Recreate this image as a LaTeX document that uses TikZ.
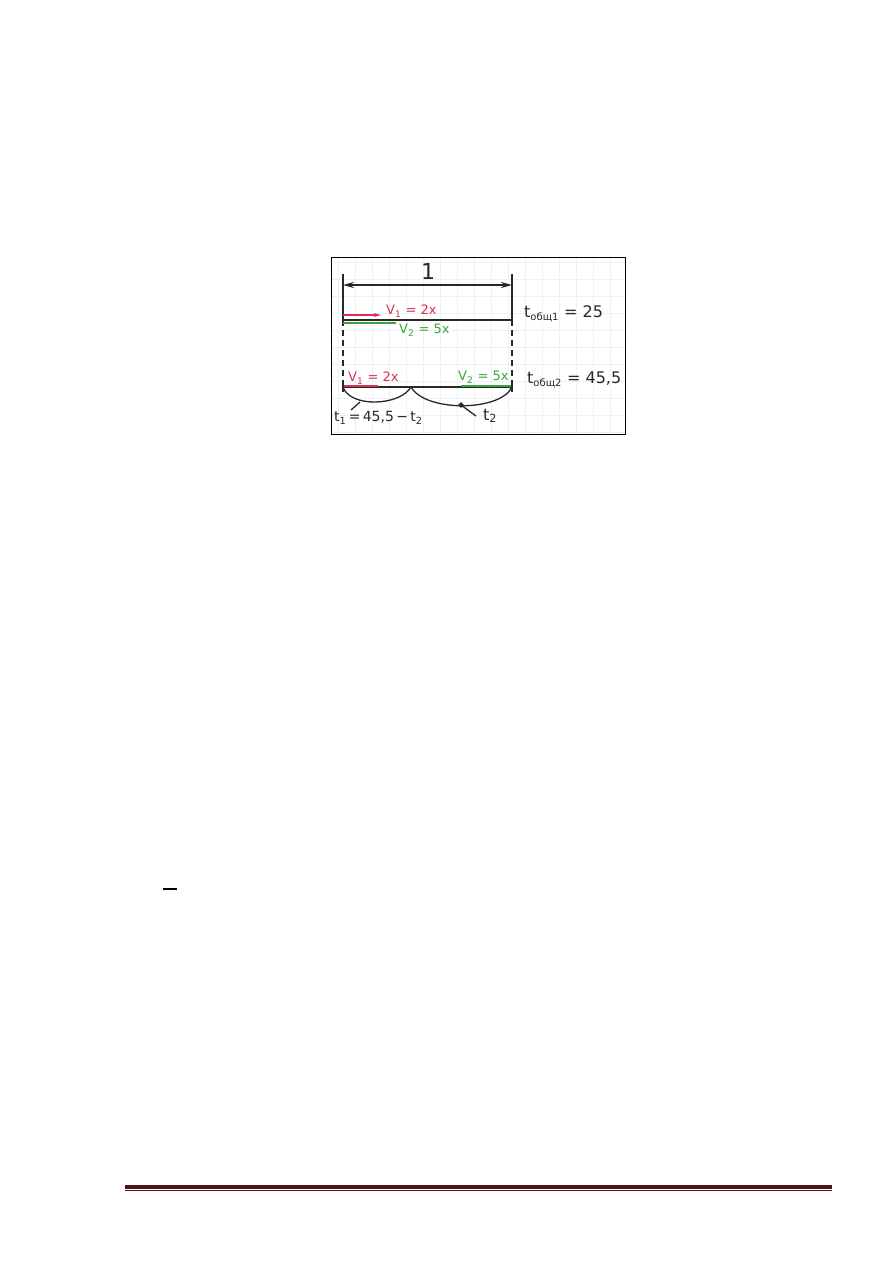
\documentclass[tikz,border=0pt]{standalone}
\usepackage{fontspec}
\setmainfont{DejaVu Sans}
\usetikzlibrary{arrows.meta,calc}
\definecolor{pred}{RGB}{225,45,80}
\definecolor{pgreen}{RGB}{55,165,60}
\definecolor{footred}{RGB}{75,18,25}
\definecolor{gridc}{RGB}{236,243,247}
\definecolor{ink}{RGB}{40,40,40}
\tikzset{
  ink/.style={draw=ink, line width=1.6pt},
  tick/.style={draw=ink, line width=2.4pt},
  redlbl/.style={text=pred, font=\fontsize{13}{13}\selectfont, inner sep=0pt, anchor=west},
  greenlbl/.style={text=pgreen, font=\fontsize{13}{13}\selectfont, inner sep=0pt, anchor=west},
  tlbl/.style={text=ink, font=\fontsize{16}{16}\selectfont, inner sep=0pt, anchor=west},
  tlbls/.style={text=ink, font=\fontsize{14}{14}\selectfont, inner sep=0pt, anchor=west},
}
\begin{document}
\begin{tikzpicture}[x=1pt,y=-1pt]
\useasboundingbox (0,0) rectangle (893,1263);
% picture frame with graph-paper grid
\begin{scope}
  \clip (331,257) rectangle (625,434);
  \foreach \gx in {338,355,...,625} \draw[gridc, line width=0.6pt] (\gx,257) -- (\gx,434);
  \foreach \gy in {262,279,...,434} \draw[gridc, line width=0.6pt] (331,\gy) -- (625,\gy);
\end{scope}
\node[draw=black, line width=1.4pt, minimum width=294pt, minimum height=177pt, inner sep=0pt, anchor=north west] (frame) at (331,257) {};
% key points
\coordinate (T1) at (343,274);
\coordinate (T2) at (512,274);
\coordinate (D1) at (343,285);
\coordinate (D2) at (512,285);
\coordinate (A1) at (343,320);
\coordinate (B1) at (512,320);
\coordinate (A2) at (343,387);
\coordinate (M2) at (411,387);
\coordinate (B2) at (512,387);
% dimension
\draw[ink] (T1) -- (A1);
\draw[ink] (T2) -- (B1);
\draw[ink, {Stealth[length=11pt,width=6pt]}-{Stealth[length=11pt,width=6pt]}] (D1) -- (D2);
\node[text=ink, font=\fontsize{22}{22}\selectfont, inner sep=0pt] (one) at (428,271) {1};
% dashed continuation
\draw[ink, line width=1.3pt, dash pattern=on 6pt off 4pt] (A1) -- (A2);
\draw[ink, line width=1.3pt, dash pattern=on 6pt off 4pt] (B1) -- (B2);
% first line
\draw[ink] (A1) -- (B1);
\draw[tick] ($(A1)+(0,-5)$) -- ($(A1)+(0,5)$);
\draw[tick] ($(B1)+(0,-5)$) -- ($(B1)+(0,5)$);
\coordinate (R1) at (381,315);
\draw[pred, line width=1.5pt, -{Stealth[length=7pt,width=4pt]}] (343,315) -- (R1);
\draw[pgreen, line width=2.2pt] (343,323) -- (396,323);
\node[redlbl] (v1a) at (386,311) {V\textsubscript{1} = 2x};
\node[greenlbl] (v2a) at (399,330) {V\textsubscript{2} = 5x};
\node[tlbl] (tob1) at (524,314) {t\textsubscript{\fontsize{10}{10}\selectfont общ1} = 25};
% second line
\draw[ink] (A2) -- (B2);
\draw[pred, line width=2.6pt] (343,386) -- (378,386);
\draw[pgreen, line width=2.6pt] (461,386) -- (512,386);
\draw[tick] ($(A2)+(0,-5)$) -- ($(A2)+(0,5)$);
\draw[tick] ($(B2)+(0,-5)$) -- ($(B2)+(0,5)$);
\node[redlbl] (v1b) at (348,378) {V\textsubscript{1} = 2x};
\node[greenlbl] (v2b) at (458,377) {V\textsubscript{2} = 5x};
\node[tlbl] (tob2) at (527,380) {t\textsubscript{\fontsize{10}{10}\selectfont общ2} = 45,5};
% braces
\draw[ink, line width=1.3pt] (A2) .. controls (350,408) and (400,406) .. (M2);
\draw[ink, line width=1.3pt] (M2) .. controls (425,412) and (500,412) .. (B2);
\coordinate (P1) at (360,402);
\coordinate (P2) at (461,405);
\node[tlbls] (t1) at (334,418) {t\textsubscript{1}\,=\,45,5\,−\,t\textsubscript{2}};
\node[tlbl] (t2) at (483,416) {t\textsubscript{2}};
\draw[ink, line width=1.3pt] (P1) -- (351,410);
\draw[ink, line width=1.3pt] (P2) -- (476,416);
\fill[ink] (P2) circle (1.8pt);
% small dash
\draw[black, line width=1.2pt] (163,889) -- (177,889);
% footer rule
\fill[footred] (125,1185) rectangle (832,1188.7);
\fill[footred] (125,1190) rectangle (832,1191);
\end{tikzpicture}
\end{document}
